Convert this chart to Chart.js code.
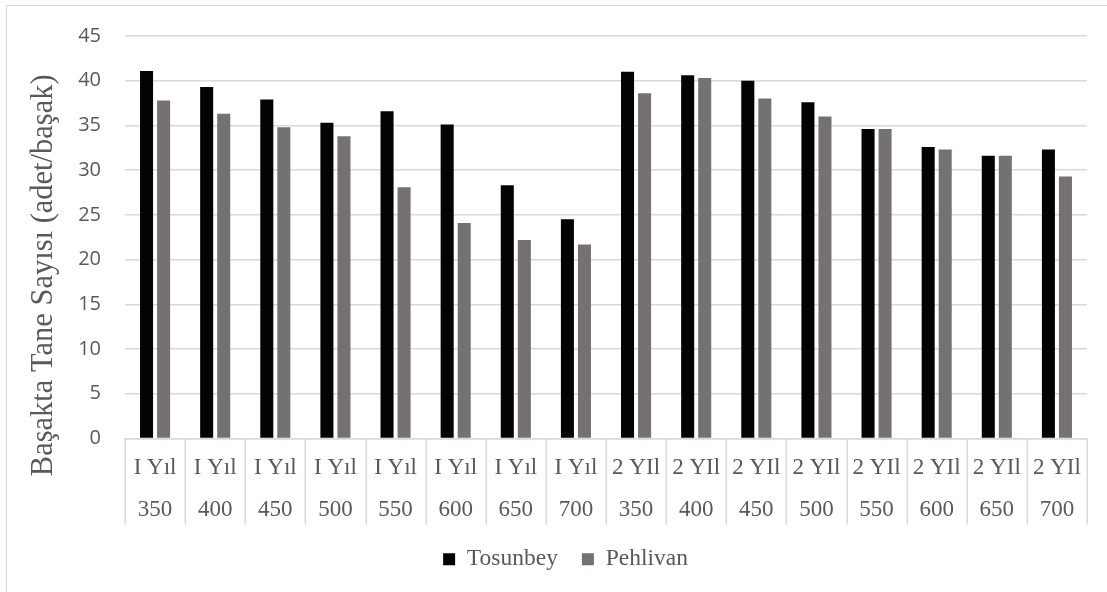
<!DOCTYPE html>
<html>
<head>
<meta charset="utf-8">
<script src="https://cdn.jsdelivr.net/npm/chart.js@4/dist/chart.umd.min.js"></script>
<style>
  html, body { margin: 0; padding: 0; background: #ffffff; }
  #wrap { position: relative; width: 1107px; height: 592px; overflow: hidden; }
  #frame { position: absolute; left: 6px; top: 5px; width: 1200px; height: 700px;
           border-left: 1.5px solid #d9d9d9; border-top: 1.5px solid #d9d9d9; }
  canvas { position: absolute; left: 0; top: 0; }
</style>
</head>
<body>
<div id="wrap">
  <div id="frame"></div>
  <canvas id="c" width="1107" height="592"></canvas>
</div>
<script>
const years = ["I Yıl","I Yıl","I Yıl","I Yıl","I Yıl","I Yıl","I Yıl","I Yıl",
               "2 YIl","2 YIl","2 YIl","2 YIl","2 YIl","2 YIl","2 YIl","2 YIl"];
const doses = ["350","400","450","500","550","600","650","700",
               "350","400","450","500","550","600","650","700"];
const tosunbey = [41.1, 39.3, 37.9, 35.3, 36.6, 35.1, 28.3, 24.5,
                  41.0, 40.6, 40.0, 37.6, 34.6, 32.6, 31.6, 32.3];
const pehlivan = [37.8, 36.3, 34.8, 33.8, 28.1, 24.1, 22.2, 21.7,
                  38.6, 40.3, 38.0, 36.0, 34.6, 32.3, 31.6, 29.3];
const seriesNames = ["Tosunbey", "Pehlivan"];
const yTitle = "Başakta Tane Sayısı (adet/başak)";

const labels = years.map((y, i) => [y, doses[i]]);
const serif = "'Liberation Serif', 'Times New Roman', serif";
const sans = "'Open Sans', 'Noto Sans', sans-serif";
const grey = "#595959";
const gridCol = "#d9d9d9";

// Draws the category separators of the multi-level x axis, using the scale's own pixels
const separators = {
  id: "separators",
  afterDraw(chart) {
    const sx = chart.scales.x;
    const ctx = chart.ctx;
    const n = chart.data.labels.length;
    const y0 = sx.top;
    const y1 = sx.top + 86;
    ctx.save();
    ctx.strokeStyle = gridCol;
    ctx.lineWidth = 1.5;
    ctx.beginPath();
    for (let i = 0; i <= n; i++) {
      const x = Math.round(sx.getPixelForValue(i - 0.5)) + 0.25;
      ctx.moveTo(x, y0);
      ctx.lineTo(x, y1);
    }
    ctx.stroke();
    ctx.restore();
  }
};

// Small placement tweaks: the y title sits lower than the plot centre and
// the legend is a little right of centre, as in the reference.
const placement = {
  id: "placement",
  afterLayout(chart) {
    chart.scales.y.bottom += 76;
    chart.legend.left += 17;
    chart.legend.right += 17;
  }
};

new Chart(document.getElementById("c"), {
  type: "bar",
  data: {
    labels: labels,
    datasets: [
      { label: seriesNames[0], data: tosunbey, backgroundColor: "#030303",
        categoryPercentage: 0.567, barPercentage: 0.765 },
      { label: seriesNames[1], data: pehlivan, backgroundColor: "#767171",
        categoryPercentage: 0.567, barPercentage: 0.765 }
    ]
  },
  plugins: [separators, placement],
  options: {
    responsive: false,
    animation: false,
    layout: { padding: { left: 10, right: 20, top: 35, bottom: 11 } },
    plugins: {
      tooltip: { enabled: false },
      legend: {
        position: "bottom",
        labels: {
          font: { family: serif, size: 23.5 },
          color: grey,
          boxWidth: 12,
          boxHeight: 12,
          padding: 24
        }
      }
    },
    scales: {
      x: {
        afterFit: (s) => { s.height = 85; },
        grid: { display: false },
        border: { display: true, color: gridCol, width: 1.5 },
        ticks: { font: { family: serif, size: 23, lineHeight: 1.84 },
                 color: grey, padding: 0, maxRotation: 0, autoSkip: false }
      },
      y: {
        min: 0, max: 45,
        afterFit: (s) => { s.width = 115; },
        ticks: { stepSize: 5, font: { family: sans, size: 20 }, color: grey, padding: 24 },
        grid: { color: gridCol, lineWidth: 1.5, drawTicks: false },
        border: { display: false },
        title: { display: true, text: yTitle, color: grey,
                 font: { family: serif, size: 30.5 }, padding: { top: 16, bottom: 0 } }
      }
    }
  }
});
</script>
</body>
</html>
